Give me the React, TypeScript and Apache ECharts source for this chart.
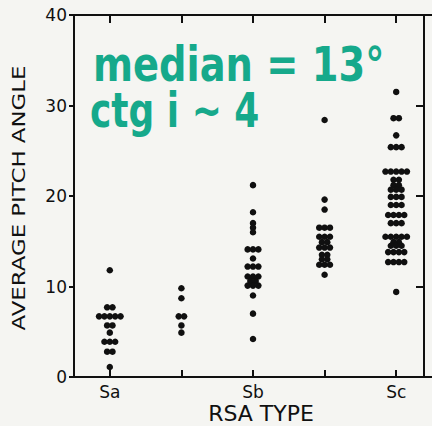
import React, { useEffect, useRef } from 'react';
import * as echarts from 'echarts';

// ---- data ----
const categories = ['Sa', 'Sa-b', 'Sb', 'Sb-c', 'Sc'];
const tickLabels = ['Sa', '', 'Sb', '', 'Sc'];
const yMin = 0;
const yMax = 40;
const yStep = 10;

const saValues = [11.8, 7.7, 7.7, 6.7, 6.7, 6.7, 6.7, 6.7, 5.7, 5.7, 4.9, 3.9, 3.9, 3.9, 2.8, 2.8, 1.1];
const sabValues = [9.8, 8.7, 6.7, 6.7, 5.7, 4.9];
const sbValues = [21.2, 18.2, 17.0, 16.5, 16.0, 14.1, 14.1, 14.1, 13.1, 12.2, 12.2, 12.2, 11.1, 11.1, 11.1, 10.6, 10.6, 10.1, 10.1, 10.1, 9.0, 7.0, 4.2];
const sbcValues = [28.4, 19.6, 18.5, 16.5, 16.5, 16.5, 15.5, 15.5, 15.5, 14.9, 14.9, 14.3, 14.3, 14.3, 13.5, 13.5, 13.0, 13.0, 12.4, 12.4, 12.4, 11.3];
const scValues = [
  31.5, 28.6, 28.6, 26.7, 25.4, 25.4, 25.4,
  22.7, 22.7, 22.7, 22.7, 22.7,
  21.8, 21.8, 21.2, 21.2, 20.7, 20.7, 20.7,
  19.9, 19.9, 19.9, 19.0, 19.0, 19.0,
  17.9, 17.9, 17.9, 17.9, 17.0, 17.0, 17.0,
  15.5, 15.5, 15.5, 15.5, 15.5, 14.9, 14.9, 14.5, 14.5, 14.5,
  13.8, 13.8, 13.8, 13.8, 12.7, 12.7, 12.7, 12.7, 9.4,
];
const columns = [saValues, sabValues, sbValues, sbcValues, scValues];

const annotationLine1 = 'median = 13°';
const annotationLine2 = 'ctg i ~ 4';

// horizontal spacing of equal-valued dots (in category units)
const DOT_STEP = 0.075;

function buildPoints(): number[][] {
  const pts: number[][] = [];
  columns.forEach((vals, ci) => {
    const counts = new Map<number, number>();
    vals.forEach((v) => counts.set(v, (counts.get(v) || 0) + 1));
    const seen = new Map<number, number>();
    vals.forEach((v) => {
      const n = counts.get(v) as number;
      const i = seen.get(v) || 0;
      seen.set(v, i + 1);
      pts.push([ci + (i - (n - 1) / 2) * DOT_STEP, v]);
    });
  });
  return pts;
}

const INK = '#101010';
const TEAL = '#16a98b';

export default function App() {
  const ref = useRef<HTMLDivElement>(null);

  useEffect(() => {
    if (!ref.current) return;
    const chart = echarts.init(ref.current, null, { renderer: 'svg' });
    const lineStyle = { color: INK, width: 2 };
    const option: any = {
      animation: false,
      backgroundColor: '#f5f5f2',
      grid: { left: 74, right: -7, top: 15, bottom: 49, containLabel: false },
      xAxis: [
        {
          type: 'category',
          data: categories,
          position: 'bottom',
          boundaryGap: true,
          axisLine: { show: true, onZero: false, lineStyle },
          axisTick: { show: true, inside: true, length: 7, alignWithLabel: true, lineStyle },
          axisLabel: {
            interval: 0,
            margin: 6,
            fontSize: 17,
            color: INK,
            fontFamily: 'DejaVu Sans',
            formatter: (_v: string, i: number) => tickLabels[i],
          },
          splitLine: { show: false },
        },
        {
          type: 'value',
          min: -0.5,
          max: 4.5,
          show: false,
          position: 'bottom',
          axisLine: { onZero: false },
          splitLine: { show: false },
        },
        {
          type: 'category',
          data: categories,
          position: 'top',
          boundaryGap: true,
          axisLine: { show: true, onZero: false, lineStyle },
          axisTick: { show: true, inside: true, length: 8, alignWithLabel: true, lineStyle },
          axisLabel: { show: false },
          splitLine: { show: false },
        },
      ],
      yAxis: [
        {
          type: 'value',
          min: yMin,
          max: yMax,
          interval: yStep,
          position: 'left',
          axisLine: { show: true, onZero: false, lineStyle },
          axisTick: { show: true, inside: false, length: 5, lineStyle },
          axisLabel: { margin: 7, fontSize: 17, color: INK, fontFamily: 'DejaVu Sans' },
          splitLine: { show: false },
        },
        {
          type: 'value',
          min: yMin,
          max: yMax,
          interval: yStep,
          position: 'right',
          offset: -8,
          axisLine: { show: true, onZero: false, lineStyle },
          axisTick: { show: true, inside: true, length: 8, lineStyle },
          axisLabel: { show: false },
          splitLine: { show: false },
        },
      ],
      series: [
        {
          type: 'scatter',
          xAxisIndex: 1,
          yAxisIndex: 0,
          data: buildPoints(),
          symbol: 'circle',
          symbolSize: 6.5,
          itemStyle: { color: INK, opacity: 1 },
          silent: true,
        },
      ],
      graphic: [
        {
          type: 'text',
          x: 19,
          y: 198,
          rotation: Math.PI / 2,
          scaleX: 1.27,
          style: {
            text: 'AVERAGE PITCH ANGLE',
            font: '18px "DejaVu Sans"',
            fill: INK,
            align: 'center',
            verticalAlign: 'middle',
            textAlign: 'center',
            textVerticalAlign: 'middle',
          },
        },
        {
          type: 'text',
          x: 261,
          y: 413,
          style: {
            text: 'RSA TYPE',
            font: '22px "DejaVu Sans"',
            fill: INK,
            align: 'center',
            verticalAlign: 'middle',
            textAlign: 'center',
            textVerticalAlign: 'middle',
          },
        },
        {
          type: 'text',
          x: 93,
          y: 64,
          scaleX: 0.8,
          style: {
            text: annotationLine1,
            font: 'bold 48px "DejaVu Sans"',
            fill: TEAL,
            align: 'left',
            verticalAlign: 'middle',
            textAlign: 'left',
            textVerticalAlign: 'middle',
          },
        },
        {
          type: 'text',
          x: 90,
          y: 111,
          scaleX: 0.75,
          style: {
            text: annotationLine2,
            font: 'bold 48px "DejaVu Sans"',
            fill: TEAL,
            align: 'left',
            verticalAlign: 'middle',
            textAlign: 'left',
            textVerticalAlign: 'middle',
          },
        },
      ],
    };
    chart.setOption(option);
    return () => chart.dispose();
  }, []);

  return (
    <div
      ref={ref}
      style={{ position: 'absolute', left: 0, top: 0, width: 432, height: 426 }}
    />
  );
}
